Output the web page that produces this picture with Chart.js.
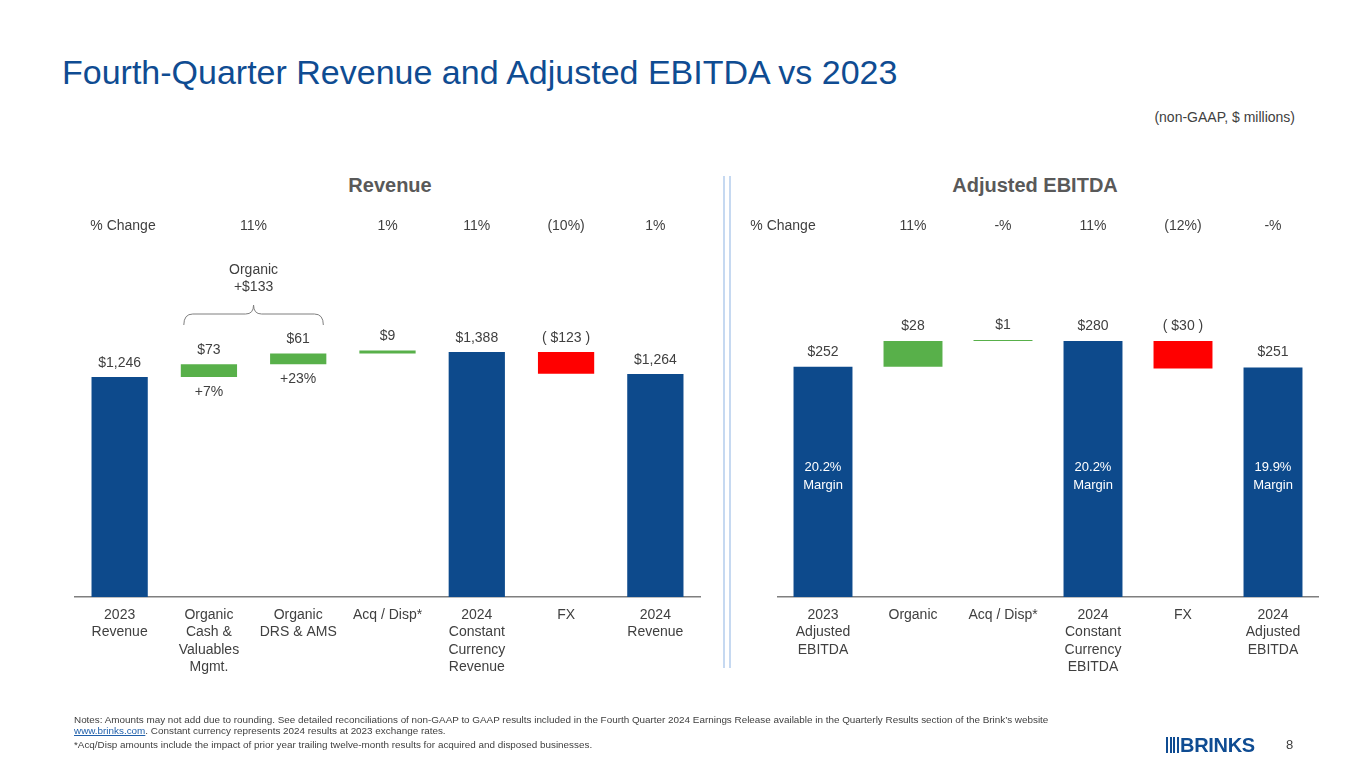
<!DOCTYPE html>
<html>
<head>
<meta charset="utf-8">
<script src="https://cdn.jsdelivr.net/npm/chart.js@4"></script>
<style>
  body { margin: 0; background: #fff; font-family: "Liberation Sans", Arial, sans-serif; }
  #slide { position: relative; width: 1365px; height: 768px; overflow: hidden; }
  .abs { position: absolute; white-space: nowrap; }
  canvas { position: absolute; top: 0; }
  .title { left: 62px; top: 53px; font-size: 34px; color: #0F4C92; }
  .unit { right: 70px; top: 109px; font-size: 14px; color: #404040; }
  .head { top: 174px; font-size: 20px; font-weight: bold; color: #595959; transform: translateX(-50%); }
  .divider { top: 176px; width: 1.5px; height: 492px; background: #C6D9F1; }
  .notes { left: 74px; font-size: 9.9px; color: #404040; }
  .notes a { color: #1F5FAA; text-decoration: underline; }
  .logo { left: 1166px; top: 734px; font-size: 20px; font-weight: bold; color: #0F4C92; letter-spacing: -0.3px; }
  .logo span { display: inline-block; width: 2px; height: 16px; background: #0F4C92; margin-right: 1.5px; vertical-align: -1px; }
  .page { left: 1286px; top: 737px; font-size: 13px; color: #404040; }
</style>
</head>
<body>
<div id="slide">
  <div class="abs title">Fourth-Quarter Revenue and Adjusted EBITDA vs 2023</div>
  <div class="abs unit">(non-GAAP, $ millions)</div>
  <div class="abs head" style="left:390px">Revenue</div>
  <div class="abs head" style="left:1035px">Adjusted EBITDA</div>
  <div class="abs divider" style="left:723px"></div>
  <div class="abs divider" style="left:729px"></div>
  <canvas id="revenue" width="727" height="768" style="left:0"></canvas>
  <canvas id="ebitda" width="638" height="768" style="left:727px"></canvas>
  <div class="abs notes" style="top:714px">Notes: Amounts may not add due to rounding. See detailed reconciliations of non-GAAP to GAAP results included in the Fourth Quarter 2024 Earnings Release available in the Quarterly Results section of the Brink’s website</div>
  <div class="abs notes" style="top:725px"><a>www.brinks.com</a>. Constant currency represents 2024 results at 2023 exchange rates.</div>
  <div class="abs notes" style="top:739px">*Acq/Disp amounts include the impact of prior year trailing twelve-month results for acquired and disposed businesses.</div>
  <div class="abs logo"><span></span><span></span><span></span><span></span>BRINKS</div>
  <div class="abs page">8</div>
</div>
<script>
// revenue waterfall
const revenueLabels = [
  ['2023', 'Revenue'],
  ['Organic', 'Cash &', 'Valuables', 'Mgmt.'],
  ['Organic', 'DRS & AMS'],
  ['Acq / Disp*'],
  ['2024', 'Constant', 'Currency', 'Revenue'],
  ['FX'],
  ['2024', 'Revenue']
];
const revenueValues = [1246, 73, 61, 9, 1388, -123, 1264];
const revenueIsTotal = [true, false, false, false, true, false, true];
const revenueText = ['$1,246', '$73', '$61', '$9', '$1,388', '( $123 )', '$1,264'];
const revenueBelow = ['', '+7%', '+23%', '', '', '', ''];
const revenuePct = ['', '11%', '', '1%', '11%', '(10%)', '1%'];
const organicTotal = ['Organic', '+$133'];

// adjusted EBITDA waterfall
const ebitdaLabels = [
  ['2023', 'Adjusted', 'EBITDA'],
  ['Organic'],
  ['Acq / Disp*'],
  ['2024', 'Constant', 'Currency', 'EBITDA'],
  ['FX'],
  ['2024', 'Adjusted', 'EBITDA']
];
const ebitdaValues = [252, 28, 1, 280, -30, 251];
const ebitdaIsTotal = [true, false, false, true, false, true];
const ebitdaText = ['$252', '$28', '$1', '$280', '( $30 )', '$251'];
const ebitdaMargin = ['20.2%', '', '', '20.2%', '', '19.9%'];
const ebitdaPct = ['', '11%', '-%', '11%', '(12%)', '-%'];

const BLUE = '#0D4A8C', GREEN = '#58B04A', RED = '#FF0000', TEXT = '#404040';
const FONT = '"Liberation Sans", Arial, sans-serif';

function floating(values, isTotal) {
  let run = 0;
  return values.map((v, i) => {
    if (isTotal[i]) { run = v; return [0, v]; }
    const seg = [run, run + v];
    run += v;
    return seg;
  });
}
function colours(values, isTotal) {
  return values.map((v, i) => isTotal[i] ? BLUE : (v < 0 ? RED : GREEN));
}

// text above / below / inside the bars, the % change row and the organic brace
const waterfallText = {
  id: 'waterfallText',
  afterDatasetsDraw(chart, args, opts) {
    const ctx = chart.ctx;
    const meta = chart.getDatasetMeta(0);
    const x = chart.scales.x;
    ctx.save();
    ctx.textAlign = 'center';
    ctx.textBaseline = 'middle';
    ctx.font = '14px ' + FONT;
    ctx.fillStyle = TEXT;
    meta.data.forEach((el, i) => {
      const top = Math.min(el.y, el.base), bottom = Math.max(el.y, el.base);
      ctx.fillText(opts.above[i], el.x, top - opts.gap);
      if (opts.below && opts.below[i]) ctx.fillText(opts.below[i], el.x, bottom + 15);
    });
    // % change row
    ctx.fillText('% Change', opts.pctLabelX, opts.pctY);
    opts.pct.forEach((t, i) => {
      if (!t) return;
      let px = x.getPixelForValue(i);
      if (opts.pctSpan && opts.pctSpan[i] !== undefined) px = (px + x.getPixelForValue(opts.pctSpan[i])) / 2;
      ctx.fillText(t, px, opts.pctY);
    });
    // margins inside the total bars
    if (opts.margin) {
      ctx.fillStyle = '#fff';
      ctx.font = '13px ' + FONT;
      const my = chart.scales.y.getPixelForValue(opts.marginAt);
      opts.margin.forEach((t, i) => {
        if (!t) return;
        const el = meta.data[i];
        ctx.fillText(t, el.x, my - 9);
        ctx.fillText('Margin', el.x, my + 9);
      });
    }
    // brace over the organic bars
    if (opts.brace) {
      const [a, b] = opts.brace.span;
      const e1 = meta.data[a], e2 = meta.data[b];
      const x1 = e1.x - e1.width / 2 + 3, x2 = e2.x + e2.width / 2 - 3;
      const xm = (x1 + x2) / 2, yt = 305, ym = 314, yb = 325;
      ctx.strokeStyle = '#7F7F7F';
      ctx.lineWidth = 1;
      ctx.beginPath();
      ctx.moveTo(x1, yb);
      ctx.quadraticCurveTo(x1, ym, x1 + 9, ym);
      ctx.lineTo(xm - 8, ym);
      ctx.quadraticCurveTo(xm, ym, xm, yt);
      ctx.quadraticCurveTo(xm, ym, xm + 8, ym);
      ctx.lineTo(x2 - 9, ym);
      ctx.quadraticCurveTo(x2, ym, x2, yb);
      ctx.stroke();
      ctx.fillStyle = TEXT;
      ctx.font = '14px ' + FONT;
      ctx.fillText(opts.brace.text[0], xm, 270);
      ctx.fillText(opts.brace.text[1], xm, 287);
    }
    ctx.restore();
  }
};

function waterfall(id, labels, values, isTotal, barPct, yMax, padding, textOpts) {
  const ctx = document.getElementById(id).getContext('2d');
  return new Chart(ctx, {
    type: 'bar',
    data: {
      labels: labels,
      datasets: [{
        data: floating(values, isTotal),
        backgroundColor: colours(values, isTotal),
        borderWidth: 0,
        borderSkipped: false,
        minBarLength: textOpts.minBar,
        barPercentage: barPct,
        categoryPercentage: 1
      }]
    },
    options: {
      responsive: false,
      animation: false,
      layout: { padding: padding },
      plugins: {
        legend: { display: false },
        tooltip: { enabled: false },
        waterfallText: textOpts
      },
      scales: {
        x: {
          grid: { display: false, drawTicks: false },
          border: { display: true, color: '#7F7F7F', width: 1.5 },
          ticks: {
            color: TEXT,
            font: { family: FONT, size: 14, lineHeight: 1.25 },
            padding: 9,
            maxRotation: 0,
            autoSkip: false
          },
          afterFit(scale) { scale.height = 85; }
        },
        y: { display: false, min: 0, max: yMax }
      }
    },
    plugins: [waterfallText]
  });
}

waterfall('revenue', revenueLabels, revenueValues, revenueIsTotal, 0.63, 1700,
  { left: 75, right: 27, top: 297, bottom: 86 },
  {
    above: revenueText, below: revenueBelow, gap: 14, minBar: 3,
    pct: revenuePct, pctSpan: { 1: 2 }, pctY: 226, pctLabelX: 123,
    brace: { span: [1, 2], text: organicTotal }
  });

waterfall('ebitda', ebitdaLabels, ebitdaValues, ebitdaIsTotal, 0.655, 325,
  { left: 51, right: 47, top: 300, bottom: 86 },
  {
    above: ebitdaText, gap: 15, minBar: 1,
    pct: ebitdaPct, pctY: 226, pctLabelX: 783 - 727,
    margin: ebitdaMargin, marginAt: 132
  });
</script>
</body>
</html>
